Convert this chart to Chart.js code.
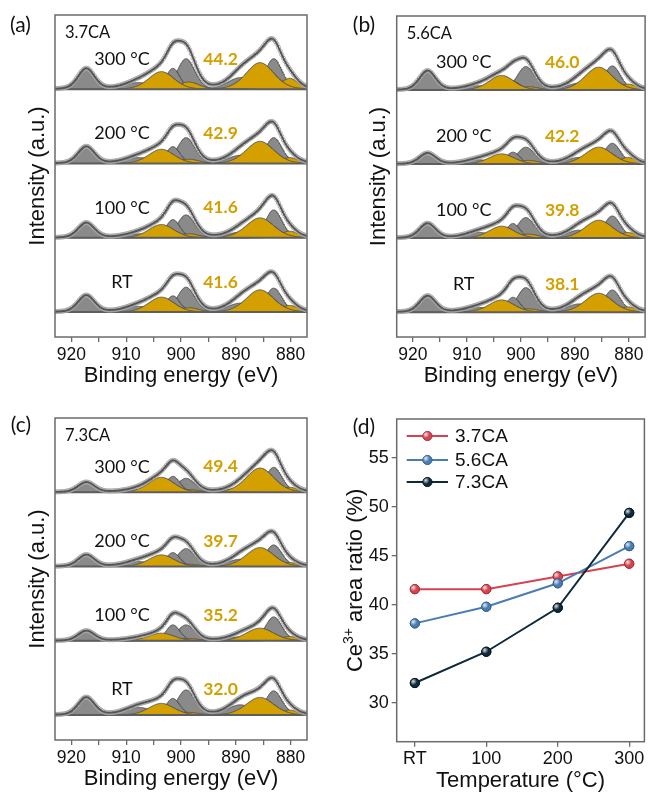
<!DOCTYPE html>
<html><head><meta charset="utf-8">
<script src="https://cdn.jsdelivr.net/npm/chart.js@4.4.0/dist/chart.umd.min.js"></script>
<style>
html,body{margin:0;padding:0;background:#fff;width:650px;height:792px;overflow:hidden}
canvas{position:absolute}
</style></head><body>
<canvas id="ca" width="325" height="395" style="left:0;top:0"></canvas>
<canvas id="cb" width="320" height="395" style="left:330px;top:0"></canvas>
<canvas id="cc" width="325" height="397" style="left:0;top:395px"></canvas>
<canvas id="cd" width="320" height="397" style="left:330px;top:395px"></canvas>
<script>
// ---------------- data ----------------
const temps = ['RT', '100', '200', '300'];
const sampleNames = ['3.7CA', '5.6CA', '7.3CA'];
const ratio37 = [41.6, 41.6, 42.9, 44.2];
const ratio56 = [38.1, 39.8, 42.2, 46.0];
const ratio73 = [32.0, 35.2, 39.7, 49.4];

// Ce 3d fit components (binding energy, eV) and widths (FWHM, eV)
const peakCenters = [917.3, 907.8, 903.6, 901.5, 899.1, 898.6, 889.2, 885.6, 883.1, 880.2];
const peakFWHM    = [3.6,   6.0,   5.5,   3.0,   3.8,   4.5,   5.5,   6.0,   3.6,   3.6];
const peakState   = ['4+', '4+', '3+', '4+', '4+', '3+', '4+', '3+', '4+', '3+'];

// component heights (a.u.), rows: RT, 100, 200, 300 °C
const h37 = [
  [16.7, 5.7, 15.0, 16.3, 25.0, 4.3, 9.0, 22.3, 24.0, 6.7],
  [15.0, 4.0, 13.3, 18.3, 23.0, 4.0, 5.7, 20.0, 28.0, 6.7],
  [17.0, 6.0, 14.3, 17.0, 26.0, 4.3, 8.3, 22.3, 26.0, 6.0],
  [20.7, 6.7, 17.7, 21.0, 30.7, 7.3, 11.7, 26.7, 30.7, 11.0]
];
const h56 = [
  [16.3, 4.7, 12.3, 15.0, 24.7, 3.3, 8.3, 19.0, 22.3, 5.3],
  [14.7, 5.7, 12.0, 14.7, 20.7, 4.0, 8.0, 18.0, 22.3, 5.7],
  [11.0, 4.3, 10.3, 12.0, 17.0, 3.7, 6.7, 17.0, 21.0, 6.7],
  [19.3, 4.3, 14.7, 9.0, 23.7, 3.3, 7.0, 23.0, 24.3, 6.0]
];
const h73 = [
  [17.7, 7.7, 11.7, 16.7, 25.3, 2.7, 10.3, 17.7, 24.3, 5.0],
  [10.0, 2.3, 7.7, 16.0, 16.0, 2.3, 4.0, 12.7, 24.0, 4.3],
  [11.7, 5.0, 11.7, 14.0, 18.0, 2.3, 7.3, 19.0, 21.7, 4.0],
  [10.0, 2.7, 15.0, 16.0, 14.0, 2.7, 4.3, 24.3, 25.0, 5.0]
];
const xTicks = [920, 915, 910, 905, 900, 895, 890, 885, 880];
const yTicksD = [30, 35, 40, 45, 50, 55];

// ---------------- style ----------------
const GOLD = '#d4a000', GREY = '#8a8a8a', FRAME = '#6b6b6b';
const SANS = '"Liberation Sans", Arial, sans-serif';
const LATO = 'Lato, "Open Sans", sans-serif';
const OFFS = [0, 74.5, 149, 223.5];
const GLMIX = 0.2;
function gl(E, c, w, h) { const t = (E - c) / w; const q = 4 * t * t; return h * ((1 - GLMIX) * Math.exp(-Math.LN2 * q) + GLMIX / (1 + q)); }

function buildXps(H) {
  const envs = [], circ = [], base = [], gold = [], grey = [];
  H.forEach((hs, i) => {
    const off = OFFS[i];
    const env = [];
    for (let k = 0; k <= 460; k++) {
      const E = 923 - k * 0.1; let s = 0;
      for (let p = 0; p < hs.length; p++) s += gl(E, peakCenters[p], peakFWHM[p], hs[p]);
      env.push({x: E, y: off + s});
    }
    envs.push({data: env, borderColor: '#555', borderWidth: 1.8, pointRadius: 0, fill: false});
    circ.push({data: env.filter((_, k) => k % 3 === 0), showLine: false, pointRadius: 2.1, pointStyle: 'circle',
      pointBorderColor: '#a6a6a6', pointBackgroundColor: 'rgba(255,255,255,0)', pointBorderWidth: 0.9});
    base.push({data: [{x: 923, y: off}, {x: 877, y: off}], borderColor: '#5e5e5e', borderWidth: 2, pointRadius: 0, fill: false});
    hs.forEach((h, p) => {
      const c = peakCenters[p], w = peakFWHM[p];
      const d = [];
      for (let E = c + 3 * w; E >= c - 3 * w; E -= 0.1) d.push({x: E, y: off + gl(E, c, w, h)});
      const ds = {data: d, borderColor: '#4d4d4d', borderWidth: 0.8, pointRadius: 0,
        backgroundColor: peakState[p] === '3+' ? GOLD : GREY, fill: {value: off}};
      (peakState[p] === '3+' ? gold : grey).push(ds);
    });
  });
  return [...envs, ...circ, ...base, ...gold, ...grey];
}

const framePlugin = {id: 'frame', afterDraw(ch) {
  const a = ch.chartArea, c = ch.ctx; c.save(); c.strokeStyle = FRAME; c.lineWidth = 1.5;
  c.strokeRect(a.left, a.top, a.right - a.left, a.bottom - a.top); c.restore(); }};

function xpsText(letter, letterPos, name, ratios, dy) {
  return {id: 'txt', afterDraw(ch) {
    const c = ch.ctx, a = ch.chartArea, ys = ch.scales.y;
    c.save(); c.fillStyle = '#111';
    c.font = '21px ' + LATO; c.textAlign = 'center'; c.textBaseline = 'middle';
    c.fillText('(' + letter + ')', letterPos[0], letterPos[1]);
    c.font = '16.5px ' + LATO; c.textAlign = 'left';
    c.fillText(name, a.left + 10, a.top + 18);
    for (let i = 0; i < 4; i++) {
      const y = ys.getPixelForValue(OFFS[i]) - dy;
      c.font = '18px ' + LATO; c.textAlign = 'center'; c.fillStyle = '#111';
      c.fillText(i === 0 ? temps[0] : temps[i] + ' °C', a.left + 67, y);
      c.font = 'bold 17.5px ' + LATO; c.fillStyle = GOLD;
      c.fillText(ratios[i].toFixed(1), a.left + 165.5, y);
    }
    c.fillStyle = '#111'; c.font = '22px ' + SANS; c.textBaseline = 'alphabetic'; c.textAlign = 'center';
    c.fillText('Binding energy (eV)', (a.left + a.right) / 2, a.bottom + 45);
    c.translate(a.left - 11.5, (a.top + a.bottom) / 2); c.rotate(-Math.PI / 2);
    c.fillText('Intensity (a.u.)', 0, 0);
    c.restore();
  }};
}

function makeXps(id, H, ratios, name, letter, letterPos, pad, dy) {
  new Chart(document.getElementById(id), {
    type: 'line',
    data: {datasets: buildXps(H)},
    options: {
      responsive: false, animation: false, events: [], normalized: true,
      layout: {padding: pad},
      scales: {
        x: {type: 'linear', reverse: true, min: 877, max: 923,
          afterBuildTicks: s => { s.ticks = xTicks.map(v => ({value: v})); },
          afterFit: s => { s.height = pad.xh; },
          grid: {drawOnChartArea: false, drawTicks: true, tickLength: 5, color: FRAME, lineWidth: 1.3},
          border: {display: false},
          ticks: {autoSkip: false, maxRotation: 0, padding: 3, color: '#111',
            font: {family: SANS, size: 17.5}, callback: v => (v % 10 === 0 ? String(v) : '')}},
        y: {type: 'linear', display: false, min: -25, max: 298}
      },
      plugins: {legend: {display: false}, tooltip: {enabled: false}}
    },
    plugins: [framePlugin, xpsText(letter, letterPos, name, ratios, dy)]
  });
}

makeXps('ca', h37, ratio37, sampleNames[0], 'a', [20.5, 25], {left: 55, top: 15, right: 18, bottom: 0, xh: 58}, 30);
makeXps('cb', h56, ratio56, sampleNames[1], 'b', [34, 25], {left: 66.7, top: 16, right: 1, bottom: 0, xh: 58}, 27.5);
makeXps('cc', h73, ratio73, sampleNames[2], 'c', [21, 30], {left: 55, top: 23, right: 18, bottom: 0, xh: 52}, 25.5);

// ---------------- panel (d) ----------------
const RED = '#d6434f', BLUE = '#4a7cb3', NAVY = '#0f2a3c';
const EDGE = {[RED]: '#a8303a', [BLUE]: '#35608f', [NAVY]: '#05141e'};
function lineDs(label, vals, col, order) {
  return {label, data: vals.map((v, i) => ({x: i, y: v})), borderColor: col, backgroundColor: col,
    pointBackgroundColor: col, pointBorderColor: EDGE[col], pointBorderWidth: 1, pointRadius: 4.6,
    borderWidth: 2, fill: false, order};
}
function dot(c, x, y, col) {
  c.beginPath(); c.arc(x, y, 4.6, 0, Math.PI * 2); c.fillStyle = col; c.fill();
  c.lineWidth = 1; c.strokeStyle = EDGE[col]; c.stroke();
  const g = c.createRadialGradient(x - 1.6, y - 1.6, 0, x - 1.6, y - 1.6, 3.6);
  g.addColorStop(0, 'rgba(255,255,255,0.85)'); g.addColorStop(1, 'rgba(255,255,255,0)');
  c.beginPath(); c.arc(x, y, 4.2, 0, Math.PI * 2); c.fillStyle = g; c.fill();
}
const shinePlugin = {id: 'shine', afterDatasetsDraw(ch) {
  const c = ch.ctx; c.save();
  ch.getSortedVisibleDatasetMetas().slice().reverse().forEach(m => {
    const col = ch.data.datasets[m.index].borderColor;
    m.data.forEach(el => dot(c, el.x, el.y, col));
  });
  c.restore(); }};
const dText = {id: 'dtxt', afterDraw(ch) {
  const c = ch.ctx, a = ch.chartArea; c.save();
  c.fillStyle = '#111'; c.font = '21px ' + LATO; c.textAlign = 'center'; c.textBaseline = 'middle';
  c.fillText('(d)', 34, 32);
  const rows = [41, 65, 87];
  [0, 1, 2].forEach(i => {
    const ds = ch.data.datasets[i];
    c.strokeStyle = ds.borderColor; c.lineWidth = 2;
    c.beginPath(); c.moveTo(76.7, rows[i]); c.lineTo(118, rows[i]); c.stroke();
    dot(c, 97.4, rows[i], ds.borderColor);
    c.fillStyle = '#111'; c.font = '19px ' + SANS; c.textAlign = 'left';
    c.fillText(ds.label, 125, rows[i] + 1);
  });
  c.font = '22px ' + SANS; c.textAlign = 'center'; c.textBaseline = 'alphabetic';
  c.fillText('Temperature (°C)', (a.left + a.right) / 2, a.bottom + 45);
  c.translate(a.left - 35, (a.top + a.bottom) / 2); c.rotate(-Math.PI / 2);
  const p1 = 'Ce', p2 = '3+', p3 = ' area ratio (%)';
  c.font = '22px ' + SANS; const w1 = c.measureText(p1).width, w3 = c.measureText(p3).width;
  c.font = '14px ' + SANS; const w2 = c.measureText(p2).width;
  let x0 = -(w1 + w2 + w3) / 2; c.textAlign = 'left';
  c.font = '22px ' + SANS; c.fillText(p1, x0, 0);
  c.font = '14px ' + SANS; c.fillText(p2, x0 + w1, -9);
  c.font = '22px ' + SANS; c.fillText(p3, x0 + w1 + w2, 0);
  c.restore(); }};

new Chart(document.getElementById('cd'), {
  type: 'line',
  data: {datasets: [
    lineDs(sampleNames[0], ratio37, RED, 2),
    lineDs(sampleNames[1], ratio56, BLUE, 1),
    lineDs(sampleNames[2], ratio73, NAVY, 0)
  ]},
  options: {
    responsive: false, animation: false, events: [],
    layout: {padding: {left: 0, top: 24, right: 4, bottom: 0}},
    scales: {
      x: {type: 'linear', min: -0.254, max: 3.2125,
        afterBuildTicks: s => { s.ticks = temps.map((_, i) => ({value: i})); },
        afterFit: s => { s.height = 50.3; },
        grid: {drawOnChartArea: false, drawTicks: true, tickLength: 5, color: FRAME, lineWidth: 1.3},
        border: {display: false},
        ticks: {autoSkip: false, maxRotation: 0, padding: 2, color: '#111', font: {family: SANS, size: 18},
          callback: v => temps[v]}},
      y: {type: 'linear', min: 26, max: 59,
        afterBuildTicks: s => { s.ticks = yTicksD.map(v => ({value: v})); },
        afterFit: s => { s.width = 66.7; },
        grid: {drawOnChartArea: false, drawTicks: true, tickLength: 5, color: FRAME, lineWidth: 1.3},
        border: {display: false},
        ticks: {padding: 3, color: '#111', font: {family: SANS, size: 18}}}
    },
    plugins: {legend: {display: false}, tooltip: {enabled: false}}
  },
  plugins: [framePlugin, shinePlugin, dText]
});
</script>
</body></html>
